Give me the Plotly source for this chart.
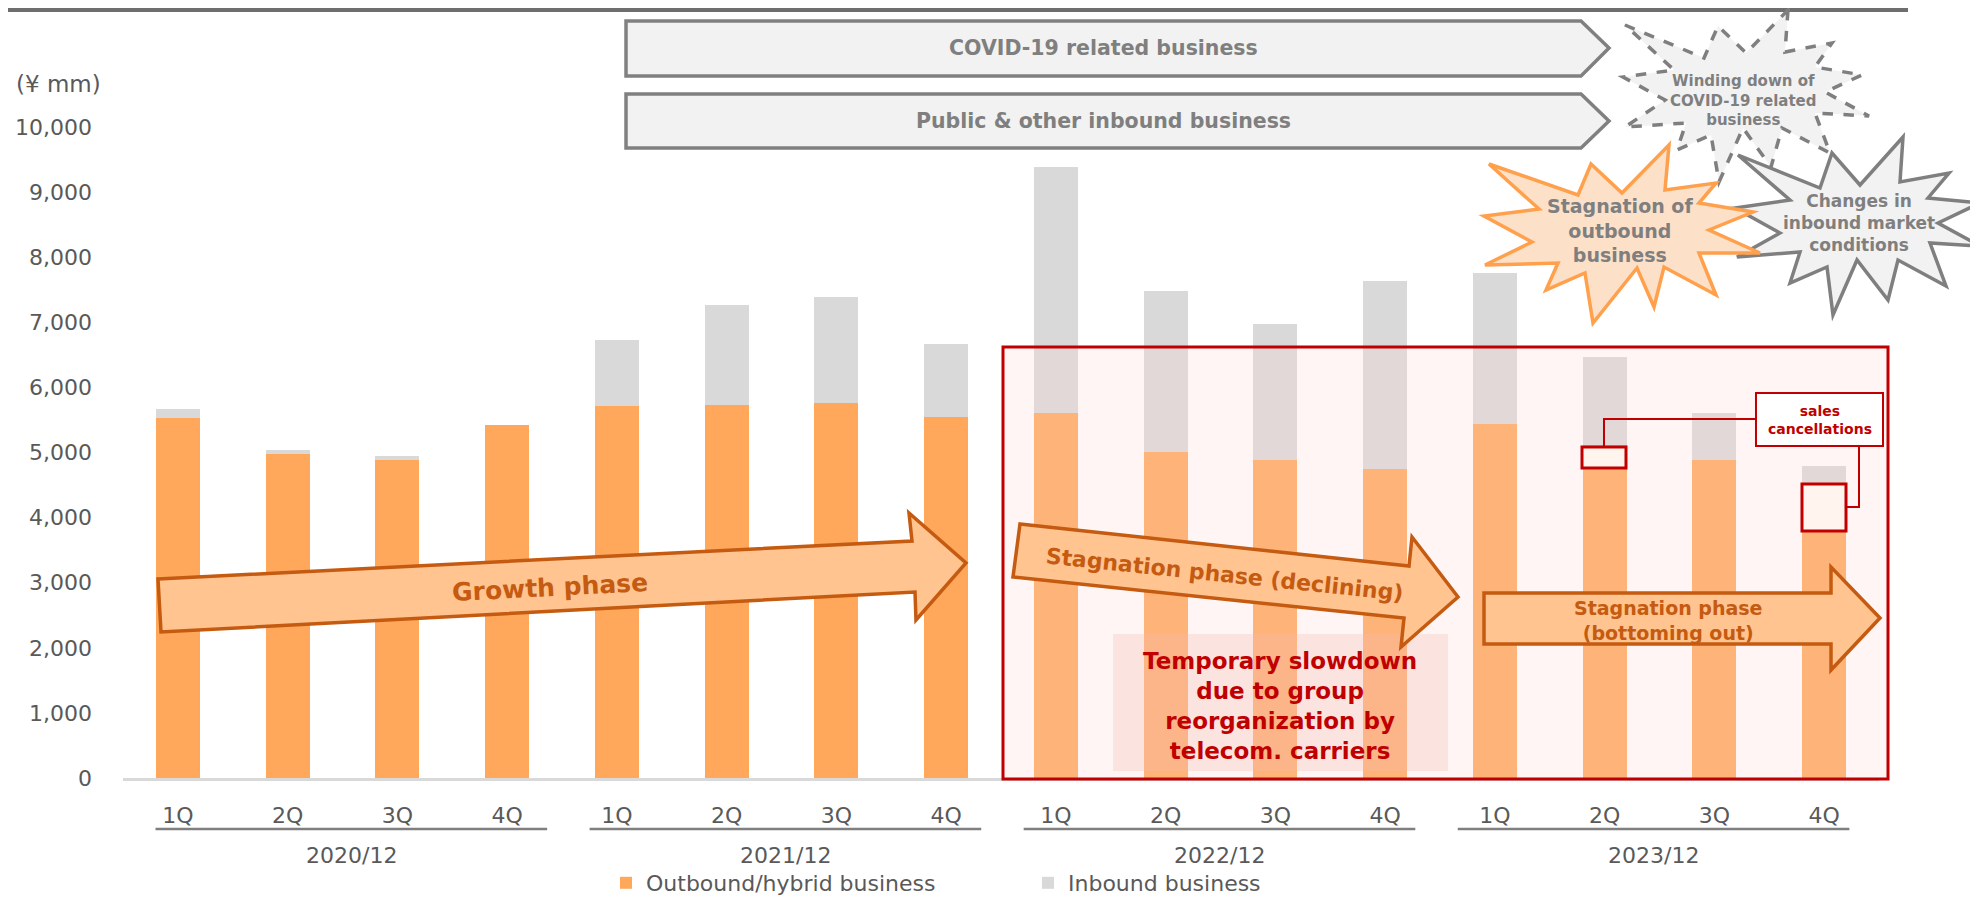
import plotly.graph_objects as go

# datos (millones de yenes)
quarters = ["1Q", "2Q", "3Q", "4Q"] * 4
fiscal_years = ["2020/12", "2021/12", "2022/12", "2023/12"]
outbound = [5530, 4970, 4880, 5430, 5720, 5730, 5760, 5550,
            5600, 5010, 4890, 4750, 5440, 5110, 4890, 4520]
inbound = [140, 70, 60, 0, 1010, 1540, 1630, 1120,
           3780, 2470, 2090, 2890, 2310, 1350, 710, 280]

# la pagina html tiene 8px de margen en el body
W, H = 1978, 897
OFF = 8
WF, HF = W - OFF, H - OFF
PLOT_X0, PLOT_X1, PLOT_Y1 = 123, 1879, 778   # area del grafico en pixeles de la pagina
L = PLOT_X0 - OFF
R = WF - (PLOT_X1 - OFF)
T = 0
B = HF - (PLOT_Y1 - OFF)
PLOT_H = HF - B - T
PX_PER_UNIT = 0.0651          # pixeles por unidad del eje y
Y_TOP = PLOT_H / PX_PER_UNIT

GREY_TXT = "#595959"
RED = "#C00000"
BROWN = "#C55A11"
FONT = "DejaVu Sans"


def px(x):
    return (x - PLOT_X0) / (PLOT_X1 - PLOT_X0)


def py(y):
    return (PLOT_Y1 - y) / PLOT_H


def path(pts):
    return "M " + " L ".join(f"{px(x):.5f},{py(y):.5f}" for x, y in pts) + " Z"


def line_path(pts):
    return "M " + " L ".join(f"{px(x):.5f},{py(y):.5f}" for x, y in pts)


fig = go.Figure()
fig.add_trace(go.Bar(x=list(range(len(quarters))), y=outbound, name="Outbound/hybrid business",
                     marker=dict(color="#FFA75A", line=dict(width=0))))
fig.add_trace(go.Bar(x=list(range(len(quarters))), y=inbound, name="Inbound business",
                     marker=dict(color="#D9D9D9", line=dict(width=0))))

shapes = []
ann = []

# linea superior
shapes.append(dict(type="path", path=line_path([(0, 10), (1908, 10)]), xref="paper", yref="paper",
                   line=dict(color="#6E6E6E", width=4)))

# recuadro rojo de estancamiento
shapes.append(dict(type="path", path=path([(1003, 347), (1888, 347), (1888, 779), (1003, 779)]),
                   xref="paper", yref="paper", fillcolor="rgba(250,215,210,0.25)",
                   line=dict(color=RED, width=3)))
# caja de texto "Temporary slowdown"
shapes.append(dict(type="path", path=path([(1113, 634), (1448, 634), (1448, 771), (1113, 771)]),
                   xref="paper", yref="paper", fillcolor="rgba(245,185,175,0.3)", line=dict(width=0)))

# flechas de fases
arrow_style = dict(xref="paper", yref="paper", fillcolor="#FFC48F", line=dict(color=BROWN, width=3.5))
growth = [(158, 579), (912, 541), (909, 513), (966, 563), (916, 620), (915, 592), (161, 632)]
declining = [(1020, 524), (1409, 566), (1412, 537), (1458, 597), (1401, 647), (1404, 618), (1013, 577)]
bottoming = [(1484, 593), (1831, 593), (1831, 567), (1880, 618), (1831, 670), (1831, 644), (1484, 644)]
for pts in [growth, declining, bottoming]:
    shapes.append(dict(type="path", path=path(pts), **arrow_style))

# flechas grises superiores
grey_style = dict(xref="paper", yref="paper", fillcolor="#F2F2F2", line=dict(color="#808080", width=3.5))
shapes.append(dict(type="path", path=path([(626, 21), (1581, 21), (1609, 48), (1581, 76), (626, 76)]), **grey_style))
shapes.append(dict(type="path", path=path([(626, 94), (1581, 94), (1609, 121), (1581, 148), (626, 148)]), **grey_style))

# estrellas
star1 = [(1788, 10), (1785, 52), (1832, 43), (1815, 67), (1862, 75), (1825, 92), (1869, 116), (1815, 113),
         (1830, 153), (1782, 128), (1771, 167), (1743, 128), (1719, 182), (1711, 135), (1677, 150),
         (1686, 123), (1625, 127), (1665, 100), (1623, 77), (1674, 70), (1625, 25), (1704, 58),
         (1718, 26), (1746, 53)]
star3 = [(1903, 137), (1900, 182), (1949, 173), (1928, 198), (1980, 203), (1938, 223), (1980, 246),
         (1930, 243), (1946, 286), (1898, 260), (1888, 300), (1857, 260), (1833, 315), (1827, 267),
         (1790, 283), (1800, 252), (1737, 257), (1780, 233), (1735, 208), (1790, 200), (1738, 155),
         (1820, 188), (1832, 153), (1860, 185)]
star2 = [(1669, 145), (1665, 190), (1716, 183), (1699, 203), (1753, 212), (1709, 230), (1760, 253),
         (1699, 253), (1716, 295), (1664, 267), (1654, 307), (1637, 268), (1593, 323), (1585, 273),
         (1546, 290), (1558, 263), (1485, 265), (1532, 242), (1484, 216), (1539, 209), (1489, 164),
         (1578, 195), (1591, 164), (1622, 193)]
shapes.append(dict(type="path", path=path(star1), xref="paper", yref="paper", fillcolor="#F2F2F2",
                   line=dict(color="#7F7F7F", width=3.5, dash="dash")))
shapes.append(dict(type="path", path=path(star3), xref="paper", yref="paper", fillcolor="#F2F2F2",
                   line=dict(color="#7F7F7F", width=3.5)))
shapes.append(dict(type="path", path=path(star2), xref="paper", yref="paper", fillcolor="#FDE0C8",
                   line=dict(color="#FFA04D", width=3.5)))

# llamada "sales cancellations"
shapes.append(dict(type="path", path=line_path([(1756, 419), (1604, 419), (1604, 447)]),
                   xref="paper", yref="paper", line=dict(color=RED, width=2)))
shapes.append(dict(type="path", path=line_path([(1859, 446), (1859, 507), (1846, 507)]),
                   xref="paper", yref="paper", line=dict(color=RED, width=2)))
shapes.append(dict(type="path", path=path([(1756, 393), (1883, 393), (1883, 446), (1756, 446)]),
                   xref="paper", yref="paper", fillcolor="white", line=dict(color=RED, width=2)))
for x0, y0, x1, y1 in [(1582, 447, 1626, 468), (1802, 484, 1846, 531)]:
    shapes.append(dict(type="path", path=path([(x0, y0), (x1, y0), (x1, y1), (x0, y1)]),
                       xref="paper", yref="paper", fillcolor="rgba(255,248,244,0.95)",
                       line=dict(color=RED, width=3)))

# ejes de grupos (anio fiscal)
x_unit = 109.7
x0_px = 178
for g, fy in enumerate(fiscal_years):
    c = 1.58 + 3.957 * g
    xa = x0_px + (c - 1.785) * x_unit
    xb = x0_px + (c + 1.785) * x_unit
    shapes.append(dict(type="path", path=line_path([(xa, 829), (xb, 829)]), xref="paper", yref="paper",
                       line=dict(color="#7F7F7F", width=2.5)))
    ann.append(dict(x=px(x0_px + c * x_unit), y=py(855), text=fy, font=dict(size=22, color=GREY_TXT)))

# textos
ann += [
    dict(x=px(58), y=py(84), text="(¥ mm)", font=dict(size=23, color=GREY_TXT)),
    dict(x=px(1103), y=py(48), text="<b>COVID-19 related business</b>", font=dict(size=20.5, color="#7F7F7F")),
    dict(x=px(1103), y=py(121), text="<b>Public & other inbound business</b>", font=dict(size=20.5, color="#7F7F7F")),
    dict(x=px(1743), y=py(100), text="<b>Winding down of<br>COVID-19 related<br>business</b>",
         font=dict(size=15, color="#7F7F7F")),
    dict(x=px(1620), y=py(230), text="<b>Stagnation of<br>outbound<br>business</b>",
         font=dict(size=19, color="#7F7F7F")),
    dict(x=px(1859), y=py(223), text="<b>Changes in<br>inbound market<br>conditions</b>",
         font=dict(size=17, color="#7F7F7F")),
    dict(x=px(550), y=py(587), text="<b>Growth phase</b>", textangle=-3, font=dict(size=25, color=BROWN)),
    dict(x=px(1224), y=py(574), text="<b>Stagnation phase (declining)</b>", textangle=6,
         font=dict(size=22, color=BROWN)),
    dict(x=px(1668), y=py(620), text="<b>Stagnation phase<br>(bottoming out)</b>", font=dict(size=19, color=BROWN)),
    dict(x=px(1280), y=py(706), text="<b>Temporary slowdown<br>due to group<br>reorganization by<br>telecom. carriers</b>",
         font=dict(size=23, color=RED)),
    dict(x=px(1820), y=py(420), text="<b>sales<br>cancellations</b>", font=dict(size=14, color=RED)),
]
for a in ann:
    a.update(xref="paper", yref="paper", showarrow=False, xanchor="center", yanchor="middle")

fig.update_layout(
    barmode="stack",
    bargap=0.6,
    width=WF, height=HF,
    margin=dict(l=L, r=R, t=T, b=B, pad=0, autoexpand=False),
    plot_bgcolor="white",
    paper_bgcolor="white",
    font=dict(family=FONT, color=GREY_TXT, size=22),
    shapes=shapes,
    annotations=ann,
    legend=dict(orientation="h", x=px(606), xanchor="left",
                yref="container", y=(HF - (883 - OFF)) / HF, yanchor="middle",
                font=dict(size=22, color=GREY_TXT), entrywidth=377, entrywidthmode="pixels",
                bgcolor="rgba(0,0,0,0)", traceorder="normal"),
)

fig.update_xaxes(
    range=[-0.5, len(quarters) - 0.5],
    tickvals=list(range(len(quarters))), ticktext=quarters,
    tickfont=dict(size=22, color=GREY_TXT),
    showgrid=False, zeroline=False,
    showline=True, linecolor="#D9D9D9", linewidth=3,
    ticks="", ticklabelstandoff=16,
)
fig.update_yaxes(
    range=[0, Y_TOP],
    tickvals=list(range(0, 10001, 1000)), tickformat=",",
    tickfont=dict(size=22, color=GREY_TXT),
    showgrid=False, zeroline=False, showline=False,
    ticks="", ticklabelstandoff=30,
)

fig.write_html("out.html")
